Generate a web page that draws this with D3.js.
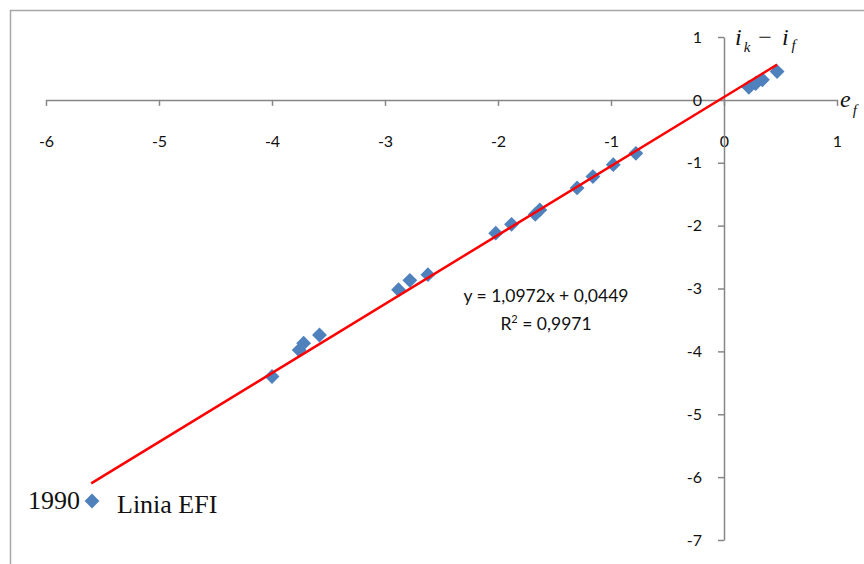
<!DOCTYPE html>
<html>
<head>
<meta charset="utf-8">
<script src="https://cdn.jsdelivr.net/npm/d3@7"></script>
<style>
  html, body { margin: 0; padding: 0; background: #fff; }
  svg { display: block; }
</style>
</head>
<body>
<svg id="chart" width="864" height="564"></svg>
<script>
// Exchange-rate change e_f against interest differential i_k - i_f
const xValues = [-4.00, -3.76, -3.72, -3.58, -2.88, -2.78, -2.62, -2.02, -1.88, -1.67, -1.63, -1.30, -1.16, -0.98, -0.78, 0.22, 0.28, 0.34, 0.47];
const yValues = [-4.40, -3.98, -3.87, -3.74, -3.02, -2.87, -2.78, -2.12, -1.98, -1.82, -1.75, -1.40, -1.22, -1.03, -0.85, 0.20, 0.26, 0.32, 0.45];
const xTicks = [-6, -5, -4, -3, -2, -1, 0, 1];
const yTicks = [-7, -6, -5, -4, -3, -2, -1, 0, 1];
const slope = 1.0972;
const intercept = 0.0449;
const rSquared = "0,9971";
const trendRange = [-5.6, 0.47];
const seriesName = "Linia EFI";
const yearLabel = "1990";

const svg = d3.select("#chart");
const x = d3.scaleLinear().domain([-6, 1]).range([46, 837]);
const y = d3.scaleLinear().domain([-7, 1]).range([540, 37]);

const axisColor = "#868686";
const labelFont = "Lato, 'Open Sans', sans-serif";
const fmt = d => String(d);

// chart frame
svg.append("rect")
  .attr("x", 10.5).attr("y", 10.5)
  .attr("width", 870).attr("height", 570)
  .attr("fill", "none").attr("stroke", "#a6a6a6").attr("stroke-width", 1.5);

// horizontal axis through y = 0, labels kept low
const xAxisG = svg.append("g").attr("transform", `translate(0,${y(0)})`)
  .call(d3.axisBottom(x).tickValues(xTicks).tickSize(6).tickSizeOuter(0).tickFormat(fmt));
xAxisG.select(".domain").attr("stroke", axisColor).attr("stroke-width", 1.5);
xAxisG.selectAll(".tick line").attr("stroke", axisColor).attr("stroke-width", 1.5);
xAxisG.selectAll(".tick text")
  .attr("y", 36).attr("dy", "0.71em")
  .attr("font-family", labelFont).attr("font-size", 16).attr("fill", "#111");

// vertical axis through x = 0
const yAxisG = svg.append("g").attr("transform", `translate(${x(0)},0)`)
  .call(d3.axisLeft(y).tickValues(yTicks).tickSize(6).tickSizeOuter(0).tickFormat(fmt));
yAxisG.select(".domain").attr("stroke", axisColor).attr("stroke-width", 1.5);
yAxisG.selectAll(".tick line").attr("stroke", axisColor).attr("stroke-width", 1.5);
yAxisG.selectAll(".tick text")
  .attr("x", -22)
  .attr("font-family", labelFont).attr("font-size", 16).attr("fill", "#111");

// data points as diamonds
const diamond = d3.symbol().type(d3.symbolDiamond2).size(140);
svg.append("g").selectAll("path")
  .data(xValues.map((v, i) => [v, yValues[i]]))
  .join("path")
  .attr("d", diamond)
  .attr("transform", d => `translate(${x(d[0])},${y(d[1])})`)
  .attr("fill", "#4f81bd");

// linear trend line
svg.append("line")
  .attr("x1", x(trendRange[0])).attr("y1", y(slope * trendRange[0] + intercept))
  .attr("x2", x(trendRange[1])).attr("y2", y(slope * trendRange[1] + intercept))
  .attr("stroke", "#ff0000").attr("stroke-width", 2.5);

// trend equation
const eq = svg.append("g").attr("font-family", labelFont).attr("font-size", 17.5).attr("fill", "#111").attr("text-anchor", "middle");
eq.append("text").attr("x", 546).attr("y", 302)
  .text(`y = ${String(slope).replace(".", ",")}x + ${String(intercept).replace(".", ",")}`);
const r2 = eq.append("text").attr("x", 546).attr("y", 330);
r2.append("tspan").text("R");
r2.append("tspan").attr("dy", -7).attr("font-size", 11).text("2");
r2.append("tspan").attr("dy", 7).text(` = ${rSquared}`);

// axis titles
const titleFont = "'Liberation Serif', 'DejaVu Serif', serif";
const yTitle = svg.append("text").attr("x", 735).attr("y", 45)
  .attr("font-family", titleFont).attr("font-style", "italic").attr("font-size", 24).attr("fill", "#111");
yTitle.append("tspan").text("i");
yTitle.append("tspan").attr("dy", 7).attr("dx", 2).attr("font-size", 15).text("k");
yTitle.append("tspan").attr("dy", -7).attr("dx", 8).attr("font-style", "normal").text("\u2212");
yTitle.append("tspan").attr("dx", 10).text("i");
yTitle.append("tspan").attr("dy", 5).attr("dx", 3).attr("font-size", 15).text("f");

const xTitle = svg.append("text").attr("x", 840).attr("y", 107)
  .attr("font-family", titleFont).attr("font-style", "italic").attr("font-size", 24).attr("fill", "#111");
xTitle.append("tspan").text("e");
xTitle.append("tspan").attr("dy", 8).attr("dx", 2).attr("font-size", 15).text("f");

// legend
const lg = svg.append("g").attr("font-family", titleFont).attr("font-size", 26).attr("fill", "#111");
lg.append("text").attr("x", 80).attr("y", 509).attr("text-anchor", "end").text(yearLabel);
lg.append("path").attr("d", diamond).attr("transform", "translate(92,501)").attr("fill", "#4f81bd");
lg.append("text").attr("x", 117).attr("y", 513).text(seriesName);
</script>
</body>
</html>
